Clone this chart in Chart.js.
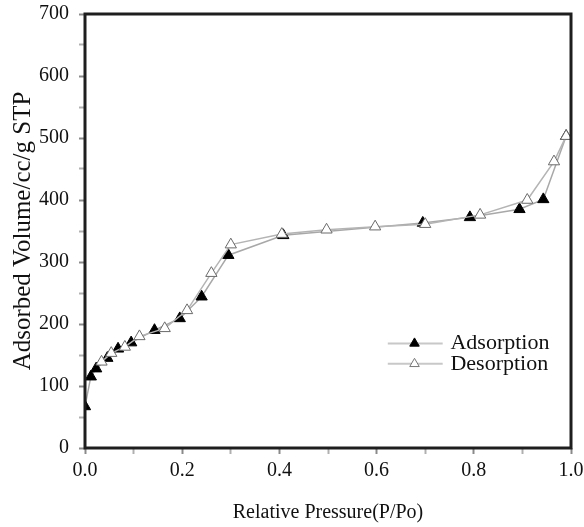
<!DOCTYPE html>
<html>
<head>
<meta charset="utf-8">
<script src="https://cdn.jsdelivr.net/npm/chart.js@4/dist/chart.umd.min.js"></script>
<style>
html,body{margin:0;padding:0;background:#fff;}
#wrap{width:584px;height:527px;position:relative;}
</style>
</head>
<body>
<div id="wrap"><canvas id="c" width="584" height="527"></canvas></div>
<script>
// ---- data ----
const adsorptionX = [0.0, 0.012, 0.023, 0.046, 0.068, 0.095, 0.143, 0.195, 0.24, 0.295, 0.408, 0.695, 0.792, 0.894, 0.943, 0.99];
const adsorptionY = [67, 115, 128, 145, 160, 170, 190, 209, 244, 311, 343, 363, 372, 385, 401, 503];
const desorptionX = [0.99, 0.965, 0.91, 0.813, 0.70, 0.597, 0.497, 0.405, 0.30, 0.26, 0.21, 0.164, 0.112, 0.082, 0.054, 0.034];
const desorptionY = [503, 462, 400, 376, 361, 357, 352, 345, 328, 282, 222, 193, 180, 163, 153, 139];
const seriesNames = ['Adsorption', 'Desorption'];
const xTickLabels = ['0.0', '0.2', '0.4', '0.6', '0.8', '1.0'];
const yTickLabels = ['0', '100', '200', '300', '400', '500', '600', '700'];
const xTitle = 'Relative Pressure(P/Po)';
const yTitle = 'Adsorbed Volume/cc/g STP';

const toPts = (xs, ys) => xs.map((x, i) => ({x: x, y: ys[i]}));
const SERIF = '"Liberation Serif", "Times New Roman", serif';

function tri(ctx, x, y, r, fill, stroke) {
  ctx.beginPath();
  for (let k = 0; k < 3; k++) {
    const a = k * 2 * Math.PI / 3;
    const px = x + Math.sin(a) * r, py = y - Math.cos(a) * r;
    if (k === 0) ctx.moveTo(px, py); else ctx.lineTo(px, py);
  }
  ctx.closePath();
  ctx.fillStyle = fill; ctx.fill();
  ctx.strokeStyle = stroke; ctx.lineWidth = 1; ctx.stroke();
}

const framePlugin = {
  id: 'frame',
  afterDraw(chart) {
    const {ctx, chartArea: a} = chart;
    ctx.save();
    ctx.strokeStyle = '#1e1e1e';
    ctx.lineWidth = 3;
    ctx.strokeRect(a.left, a.top, a.right - a.left, a.bottom - a.top);
    // legend
    const w = a.right - a.left, h = a.bottom - a.top;
    const lx0 = a.left + 0.623 * w, lx1 = a.left + 0.736 * w, mx = a.left + 0.678 * w;
    const tx = a.left + 0.752 * w;
    const ys = [a.top + 0.759 * h, a.top + 0.806 * h];
    ctx.font = '22px ' + SERIF;
    ctx.textBaseline = 'middle';
    ctx.textAlign = 'left';
    ys.forEach((yy, i) => {
      ctx.strokeStyle = '#c8c8c8';
      ctx.lineWidth = 2;
      ctx.beginPath(); ctx.moveTo(lx0, yy); ctx.lineTo(lx1, yy); ctx.stroke();
      if (i === 0) tri(ctx, mx, yy, 5.5, '#000', '#000');
      else tri(ctx, mx, yy, 5.5, '#fff', '#777');
      ctx.fillStyle = '#111';
      ctx.fillText(seriesNames[i], tx, yy);
    });
    ctx.restore();
  }
};

new Chart(document.getElementById('c'), {
  type: 'scatter',
  data: {
    datasets: [
      {
        label: seriesNames[0],
        data: toPts(adsorptionX, adsorptionY),
        showLine: true,
        borderColor: '#a8a8a8',
        borderWidth: 1.5,
        pointStyle: 'triangle',
        pointRadius: 6.5,
        pointBackgroundColor: '#000',
        pointBorderColor: '#000',
        pointBorderWidth: 1,
        order: 2
      },
      {
        label: seriesNames[1],
        data: toPts(desorptionX, desorptionY),
        showLine: true,
        borderColor: '#b4b4b4',
        borderWidth: 1.5,
        pointStyle: 'triangle',
        pointRadius: 6.5,
        pointBackgroundColor: '#fff',
        pointBorderColor: '#6a6a6a',
        pointBorderWidth: 1,
        order: 1
      }
    ]
  },
  options: {
    responsive: false,
    animation: false,
    layout: {padding: {top: 14, right: 13, left: 0, bottom: 0}},
    plugins: {legend: {display: false}, tooltip: {enabled: false}},
    scales: {
      x: {
        type: 'linear',
        min: 0, max: 1,
        afterFit(s) { s.height = 79; s.paddingLeft = 0; s.paddingRight = 0; },
        border: {display: false},
        grid: {
          drawOnChartArea: false,
          drawTicks: true,
          tickLength: 6,
          tickColor: (c) => (Math.round(c.tick.value * 10) % 2 === 0 ? '#8a8a8a' : '#b0b0b0'),
          tickWidth: 2
        },
        ticks: {
          stepSize: 0.1,
          padding: 5,
          color: '#111',
          font: {family: SERIF, size: 20},
          callback: (v) => {
            const k = Math.round(v * 10);
            return k % 2 === 0 ? xTickLabels[k / 2] : '';
          }
        },
        title: {
          display: true,
          text: xTitle,
          color: '#111',
          font: {family: SERIF, size: 20},
          padding: {top: 0, bottom: 2}
        }
      },
      y: {
        type: 'linear',
        min: 0, max: 700,
        afterFit(s) { s.width = 85; s.paddingTop = 0; s.paddingBottom = 0; },
        border: {display: false},
        grid: {
          drawOnChartArea: false,
          drawTicks: true,
          tickLength: 6,
          tickColor: (c) => (c.tick.value % 100 === 0 ? '#8a8a8a' : '#b0b0b0'),
          tickWidth: 2
        },
        ticks: {
          stepSize: 50,
          padding: 10,
          color: '#111',
          font: {family: SERIF, size: 20},
          callback: (v) => (v % 100 === 0 ? yTickLabels[v / 100] : '')
        },
        title: {
          display: true,
          text: yTitle,
          color: '#111',
          font: {family: SERIF, size: 25},
          padding: {top: 8, bottom: 0}
        }
      }
    }
  },
  plugins: [framePlugin]
});
</script>
</body>
</html>
